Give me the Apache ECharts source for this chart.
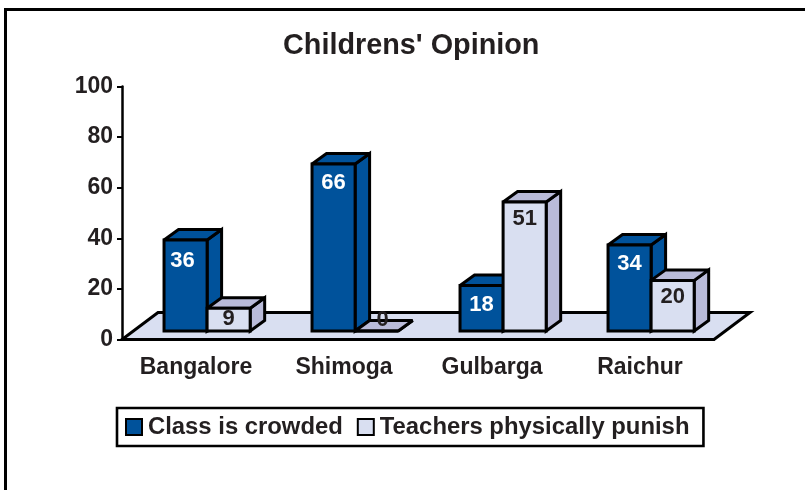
<!DOCTYPE html>
<html>
<head>
<meta charset="utf-8">
<style>html,body{margin:0;padding:0;background:#fff}#main{width:805px;height:490px}</style>
<script src="https://cdn.jsdelivr.net/npm/echarts@6/dist/echarts.min.js"></script>
</head>
<body>
<div id="main"></div>
<script>
var categories = ['Bangalore', 'Shimoga', 'Gulbarga', 'Raichur'];
var crowded = [36, 66, 18, 34];
var punish = [9, 0, 51, 20];
var yTicks = [0, 20, 40, 60, 80, 100];

var fontName = '"Liberation Sans", Arial, sans-serif';
var textColor = '#231f20';
var blue = '#00529b';
var light = '#d9dff1';
var lightSide = '#b9bbd9';

function poly(points, fill, miter) {
    return {
        type: 'polygon',
        shape: { points: points },
        style: { fill: fill, stroke: '#000', lineWidth: 3, lineJoin: 'miter', miterLimit: miter }
    };
}

// 3d look: each bar is a front, a top and a side face
function barRenderer(slot, front, top, side, labelColor, labelDrop) {
    return function (params, api) {
        var cat = api.value(0), val = api.value(1);
        var base = api.coord([cat, 0]);
        var tip = api.coord([cat, val]);
        var catW = api.size([1, 0])[0];
        var w = catW * 0.291;
        var x0 = base[0] - catW / 2 + catW * 0.284 + slot * w;
        var x1 = x0 + w;
        var yB = base[1] - 8.5;
        var yT = tip[1] - 8.5;
        var dx = 14.5, dy = 10.5;
        var h = yB - yT;
        var labelX = (x0 + x1) / 2;
        var labelY = yT + Math.min(labelDrop, h * 0.45);
        if (val === 0) {
            // flat bar: the label sits on its top face
            labelX += 6;
            labelY = yB - 11;
        } else if (slot === 0 && cat === 0) {
            labelX -= 3;
            labelY += 2;
        }
        return {
            type: 'group',
            children: [
                poly([[x1, yB], [x1 + dx, yB - dy], [x1 + dx, yT - dy], [x1, yT]], side, 3),
                poly([[x0, yT], [x0 + dx, yT - dy], [x1 + dx, yT - dy], [x1, yT]], top, 3),
                poly([[x0, yB], [x1, yB], [x1, yT], [x0, yT]], front, 3),
                {
                    type: 'text',
                    z2: 10,
                    style: {
                        text: String(val), x: labelX, y: labelY,
                        fill: labelColor, font: 'bold 22px ' + fontName,
                        align: 'center', verticalAlign: 'middle'
                    }
                }
            ]
        };
    };
}

// floor under the bars
function floorRenderer(params, api) {
    var catW = api.size([1, 0])[0];
    var left = api.coord([0, 0]);
    var right = api.coord([categories.length - 1, 0]);
    var xa = left[0] - catW / 2, xb = right[0] + catW / 2, y = left[1];
    return poly([[xa, y], [xb, y], [xb + 36, y - 27], [xa + 36, y - 27]], light, 10);
}

function rows(values) {
    return values.map(function (v, i) { return [i, v]; });
}

var chart = echarts.init(document.getElementById('main'), null, { renderer: 'canvas' });
chart.setOption({
    animation: false,
    backgroundColor: '#fff',
    title: {
        text: "Childrens' Opinion",
        left: 278, top: 27,
        textStyle: { fontFamily: fontName, fontSize: 28.8, fontWeight: 'bold', color: textColor }
    },
    graphic: [{
        type: 'polyline',
        shape: { points: [[5.5, 490], [5.5, 9.5], [805, 9.5]] },
        style: { fill: 'none', stroke: '#000', lineWidth: 3 },
        silent: true
    }],
    legend: {
        left: 117, top: 408,
        padding: [7, 14, 7, 8],
        itemGap: 14, itemWidth: 16, itemHeight: 16,
        icon: 'rect',
        borderColor: '#000', borderWidth: 2.6,
        selectedMode: false,
        data: ['Class is crowded', 'Teachers physically punish'],
        textStyle: { fontFamily: fontName, fontSize: 23.85, fontWeight: 'bold', color: textColor, padding: [2, 0, 0, 1] }
    },
    grid: { left: 122, right: 91, top: 86.5, bottom: 150.5 },
    xAxis: {
        type: 'category',
        data: categories,
        z: 5,
        axisLine: { lineStyle: { color: '#000', width: 2.5 } },
        axisTick: { length: 5, lineStyle: { color: '#000', width: 2 } },
        axisLabel: { margin: 17, fontFamily: fontName, fontSize: 23, fontWeight: 'bold', color: textColor, interval: 0 }
    },
    yAxis: {
        type: 'value',
        min: 0, max: yTicks[yTicks.length - 1], interval: yTicks[1] - yTicks[0],
        z: 5,
        splitLine: { show: false },
        axisLine: { show: true, lineStyle: { color: '#000', width: 2.5 } },
        axisTick: { show: true, length: 5, lineStyle: { color: '#000', width: 2 } },
        axisLabel: { margin: 9, fontFamily: fontName, fontSize: 23, fontWeight: 'bold', color: textColor }
    },
    series: [
        {
            name: 'floor', type: 'custom', renderItem: floorRenderer,
            data: [[0, 0]], silent: true, clip: false, z: 1
        },
        {
            name: 'Class is crowded', type: 'custom',
            renderItem: barRenderer(0, blue, blue, blue, '#fff', 19),
            encode: { x: 0, y: 1 }, data: rows(crowded), clip: false, z: 2,
            itemStyle: { color: blue, borderColor: '#000', borderWidth: 2.5 }
        },
        {
            name: 'Teachers physically punish', type: 'custom',
            renderItem: barRenderer(1, light, lightSide, lightSide, textColor, 16.5),
            encode: { x: 0, y: 1 }, data: rows(punish), clip: false, z: 3,
            itemStyle: { color: light, borderColor: '#000', borderWidth: 2.5 }
        }
    ]
});
</script>
</body>
</html>
